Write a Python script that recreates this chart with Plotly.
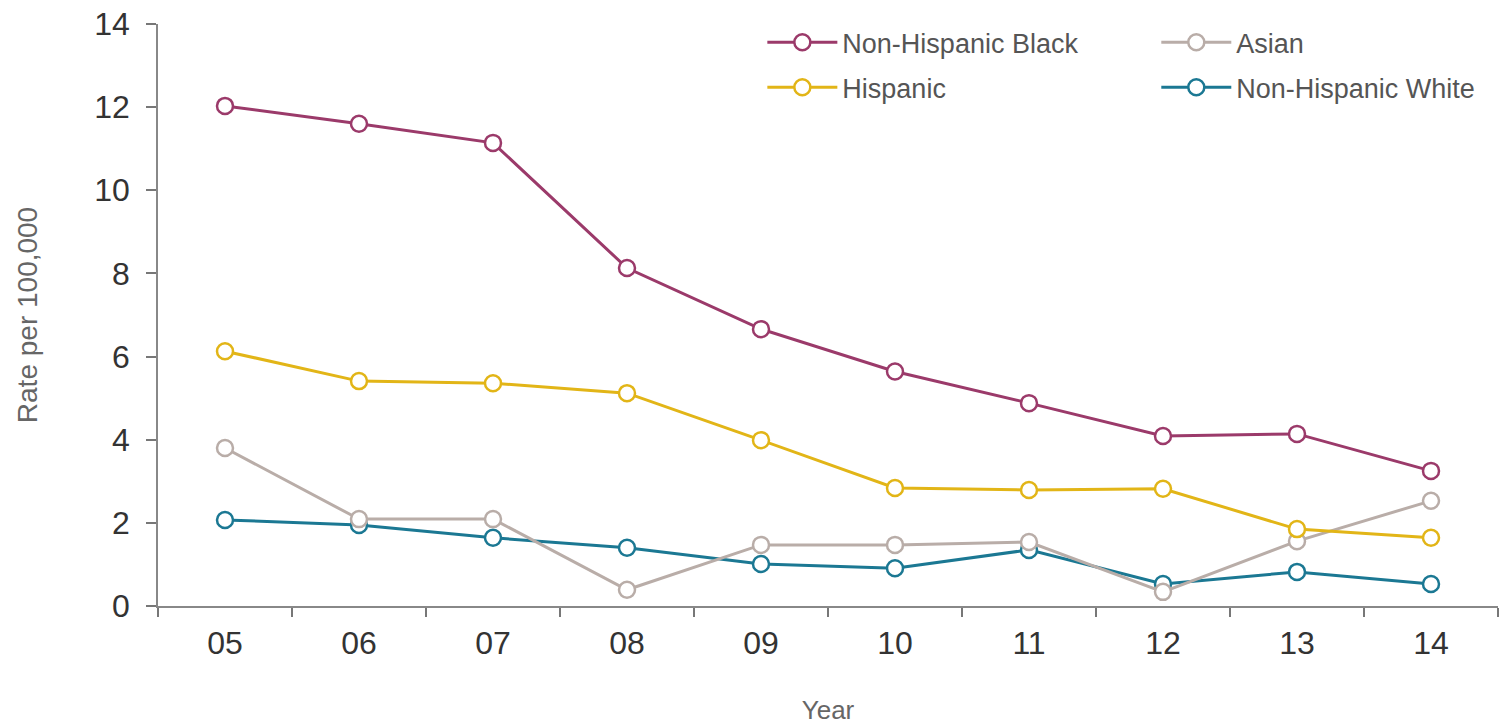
import plotly.graph_objects as go

years = ["05", "06", "07", "08", "09", "10", "11", "12", "13", "14"]
black = [12.03, 11.6, 11.14, 8.13, 6.66, 5.64, 4.88, 4.09, 4.14, 3.25]
hispanic = [6.13, 5.41, 5.36, 5.12, 3.99, 2.84, 2.79, 2.82, 1.85, 1.64]
asian = [3.80, 2.09, 2.09, 0.39, 1.47, 1.47, 1.54, 0.34, 1.56, 2.53]
white = [2.07, 1.95, 1.64, 1.40, 1.01, 0.91, 1.35, 0.53, 0.82, 0.53]

series = [
    ("Non-Hispanic Black", black, "#9B3A6A", "legend"),
    ("Hispanic", hispanic, "#E2B517", "legend"),
    ("Asian", asian, "#B9ADA8", "legend2"),
    ("Non-Hispanic White", white, "#1B7893", "legend2"),
]

fig = go.Figure()
draw_order = [3, 2, 1, 0]
for i in draw_order:
    name, vals, col, lg = series[i]
    fig.add_trace(go.Scatter(
        x=years, y=vals, name=name, mode="lines+markers",
        line=dict(color=col, width=3),
        marker=dict(symbol="circle", size=16, color="white",
                    line=dict(color=col, width=2.5)),
        legend=lg, legendrank=i, legendgroup=name,
    ))

font_family = "Liberation Sans, Arial, sans-serif"
legend_common = dict(
    orientation="v", bgcolor="rgba(0,0,0,0)",
    font=dict(family=font_family, size=27, color="#555555"),
    itemwidth=70, tracegroupgap=7, yanchor="top", xanchor="left",
)

fig.update_layout(
    width=1499, height=725,
    paper_bgcolor="white", plot_bgcolor="white",
    margin=dict(l=158, r=1, t=24, b=119),
    font=dict(family=font_family, color="#333333"),
    showlegend=True,
    legend=dict(x=0.451, y=1.01, **legend_common),
    legend2=dict(x=0.745, y=1.01, **legend_common),
    xaxis=dict(
        type="category", tickson="boundaries", ticks="outside", ticklen=9,
        tickcolor="#777777", tickwidth=1.5,
        showline=True, linecolor="#888888", linewidth=1.5,
        showgrid=False, zeroline=False, automargin=False,
        ticklabeloverflow="allow",
        tickfont=dict(size=32, color="#333333"), ticklabelstandoff=8,
        title=dict(text="Year", font=dict(size=26, color="#666666"), standoff=42),
        range=[-0.5, 9.5],
    ),
    yaxis=dict(
        range=[0, 14], dtick=2, ticks="outside", ticklen=10,
        tickcolor="#777777", tickwidth=1.5,
        showline=True, linecolor="#888888", linewidth=1.5,
        showgrid=False, zeroline=False, automargin=False,
        ticklabeloverflow="allow",
        tickfont=dict(size=32, color="#333333"), ticklabelstandoff=10,
        title=dict(text="Rate per 100,000", font=dict(size=28, color="#666666"), standoff=48),
    ),
)

fig.write_html("out.html",
               config={"displayModeBar": False},
               post_script="document.body.style.margin='0px';document.body.style.overflow='hidden';")
